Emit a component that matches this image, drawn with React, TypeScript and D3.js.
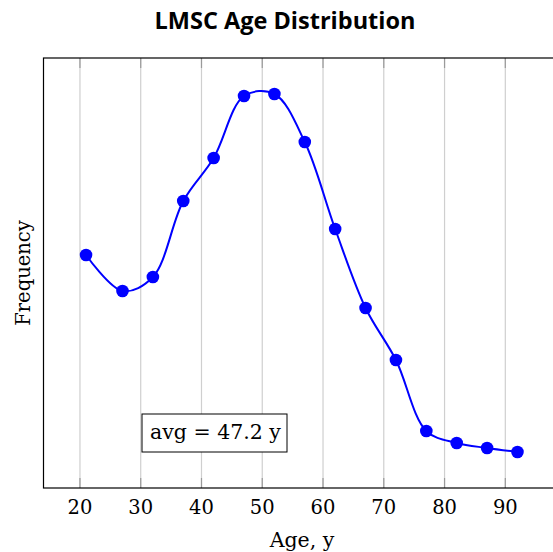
import React from 'react';
import * as d3 from 'd3';

// ages (bin centers) and their frequencies
const ages = [21, 27, 32, 37, 42, 47, 52, 57, 62, 67, 72, 77, 82, 87, 92];
const freqs = [233, 197, 211, 287, 330, 392, 394, 346, 259, 180, 128, 57, 45, 40, 36];
const xTicks = [20, 30, 40, 50, 60, 70, 80, 90];

const W = 553;
const H = 552;
const serif = '"DejaVu Serif", serif';

export default function App() {
  const x = d3.scaleLinear().domain([14, 99]).range([43.5, 560]);
  const y = d3.scaleLinear().domain([0, 430]).range([488, 58]);

  const pts: [number, number][] = ages.map((a, i) => [x(a), y(freqs[i])]);
  const line = d3.line().curve(d3.curveCatmullRom.alpha(0.5))(pts) || '';

  const top = y(430);
  const bottom = y(0);
  const left = x(14);
  const right = x(99);

  return (
    <div style={{ position: 'fixed', left: 0, top: 0 }}>
      <svg width={W} height={H} style={{ display: 'block' }}>
        <rect width={W} height={H} fill="#fff" />
        <text x={285} y={28.5} textAnchor="middle" fontFamily='"Open Sans", sans-serif'
          fontWeight="bold" fontSize={23.5}>LMSC Age Distribution</text>

        {/* grid + ticks */}
        {xTicks.map(t => (
          <g key={t}>
            <line x1={x(t)} x2={x(t)} y1={top} y2={bottom} stroke="#cfcfcf" strokeWidth={1.2} />
            <line x1={x(t)} x2={x(t)} y1={top} y2={top + 10} stroke="#9a9a9a" strokeWidth={1.2} />
            <line x1={x(t)} x2={x(t)} y1={bottom - 10} y2={bottom} stroke="#9a9a9a" strokeWidth={1.2} />
            <text x={x(t)} y={514} textAnchor="middle" fontFamily={serif} fontSize={19.5}>{t}</text>
          </g>
        ))}

        {/* frame */}
        <rect x={left} y={top} width={right - left} height={bottom - top} fill="none" stroke="#000" strokeWidth={1.2} />

        <path d={line} fill="none" stroke="#0000ff" strokeWidth={2} />
        {pts.map((p, i) => (
          <circle key={i} cx={p[0]} cy={p[1]} r={6.3} fill="#0000ff" />
        ))}

        {/* average box */}
        <rect x={142} y={414} width={145} height={38} fill="#fff" stroke="#000" strokeWidth={1} />
        <text x={150} y={438.5} fontFamily={serif} fontSize={20.5}>avg = 47.2 y</text>

        <text x={302} y={547} textAnchor="middle" fontFamily={serif} fontSize={20.5}>Age, y</text>
        <text transform={`translate(29.5,${(top + bottom) / 2}) rotate(-90)`} textAnchor="middle"
          fontFamily={serif} fontSize={19.5}>Frequency</text>
      </svg>
    </div>
  );
}
